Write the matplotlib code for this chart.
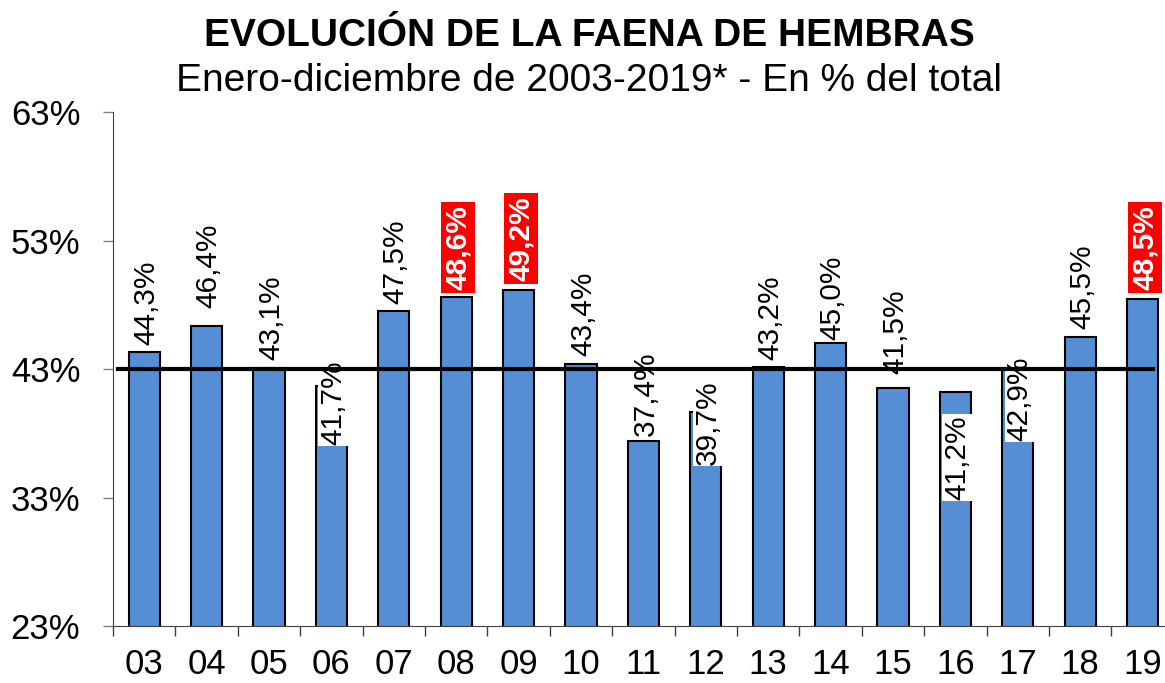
import numpy as np
import matplotlib
matplotlib.use("Agg")
import matplotlib.pyplot as plt

plt.rcParams['font.family'] = ['Liberation Sans', 'DejaVu Sans']

# datos
anios = ['03', '04', '05', '06', '07', '08', '09', '10', '11', '12',
         '13', '14', '15', '16', '17', '18', '19']
faena_hembras = [44.3, 46.4, 43.1, 41.7, 47.5, 48.6, 49.2, 43.4, 37.4, 39.7,
                 43.2, 45.0, 41.5, 41.2, 42.9, 45.5, 48.5]
destacados = ['08', '09', '19']
promedio = 43.0
y_ticks = [23, 33, 43, 53, 63]

# desplazamiento de las etiquetas (pixeles, respecto del tope de la barra)
label_shift = [50, 60, 50, -17, 50, 50, 51, 50, 47, -11, 49, 46, 57, -65, -28, 50, 51]

fig = plt.figure(figsize=(11.65, 6.83), dpi=100)
ax = fig.add_axes([0.097, 0.0835, 0.9106, 0.752])

x = np.arange(len(anios))
ax.bar(x, faena_hembras, width=0.5, color='#558ED5', edgecolor='black',
       linewidth=1.5, zorder=2)

# etiquetas de datos
for i, (a, v) in enumerate(zip(anios, faena_hembras)):
    txt = f"{v:.1f}%".replace('.', ',')
    if a in destacados:
        ax.annotate(txt, (i, v), xytext=(2, label_shift[i]), textcoords='offset pixels',
                    rotation=90, ha='center', va='center', fontsize=21.5,
                    fontweight='bold', color='white', zorder=4,
                    bbox=dict(boxstyle='square,pad=0.1', fc='#FF0000', ec='none'))
    else:
        ax.annotate(txt, (i, v), xytext=(2, label_shift[i]), textcoords='offset pixels',
                    rotation=90, ha='center', va='center', fontsize=21.5,
                    color='black', zorder=3,
                    bbox=dict(boxstyle='square,pad=0.04', fc='white', ec='none'))

# linea de promedio
ax.axhline(promedio, xmin=0.005, xmax=0.98, color='black', linewidth=3, zorder=5)

ax.set_xlim(-0.5, len(anios) - 0.5)
ax.set_ylim(23, 63)
ax.set_yticks(y_ticks)
ax.set_yticklabels([f"{t}%" for t in y_ticks])
ax.set_xticks(x)
ax.set_xticklabels(anios)
ax.set_xticks(np.arange(len(anios) + 1) - 0.5, minor=True)
ax.tick_params(axis='x', which='major', length=0, pad=16, labelsize=25)
ax.tick_params(axis='x', which='minor', length=7, color='#404040', width=1)
ax.tick_params(axis='y', length=7, color='#808080', width=1, pad=16.5, labelsize=25)

for s in ['top', 'right']:
    ax.spines[s].set_visible(False)
ax.spines['left'].set_color('#404040')
ax.spines['bottom'].set_color('#404040')

fig.text(0.506, 0.932, 'EVOLUCIÓN DE LA FAENA DE HEMBRAS', ha='center', va='baseline',
         fontsize=28, fontweight='bold')
fig.text(0.506, 0.867, 'Enero-diciembre de 2003-2019* - En % del total', ha='center',
         va='baseline', fontsize=28)

fig.savefig('out.png', dpi=100)
